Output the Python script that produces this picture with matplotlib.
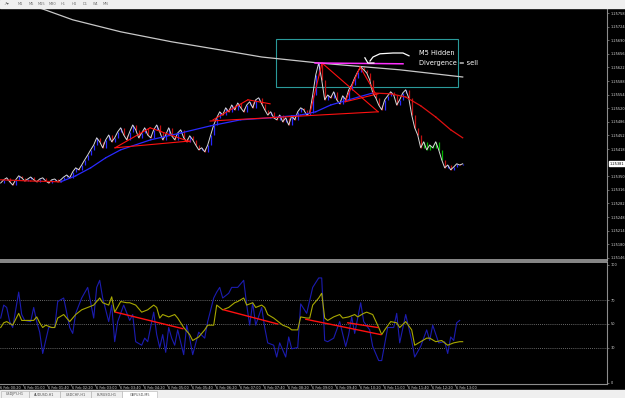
import matplotlib
matplotlib.use('Agg')
import matplotlib.pyplot as plt
from matplotlib.patches import Rectangle
from matplotlib.transforms import blended_transform_factory

# GBPUSD M5, 6 Feb, bar 0 = 00:20, one value per bar
closes = [1.25333, 1.25341, 1.25346, 1.25336, 1.25328, 1.25341, 1.25351, 1.25346, 1.25338, 1.25343,
          1.25348, 1.25341, 1.25336, 1.25343, 1.25346, 1.25338, 1.25333, 1.25341, 1.25343, 1.25336,
          1.25341, 1.25348, 1.25353, 1.25346, 1.25361, 1.25371, 1.25366, 1.25378, 1.25391, 1.25403,
          1.25416, 1.25428, 1.25446, 1.25436, 1.25421, 1.25441, 1.25453, 1.25436, 1.25446, 1.25461,
          1.25471, 1.25453, 1.25441, 1.25461, 1.25478, 1.25466, 1.25446, 1.25458, 1.25471, 1.25453,
          1.25446, 1.25466, 1.25478, 1.25461, 1.25441, 1.25453, 1.25471, 1.25451, 1.25441, 1.25458,
          1.25466, 1.25446, 1.25436, 1.25451, 1.25441, 1.25428, 1.25416, 1.25421, 1.25411, 1.25428,
          1.25453, 1.25478, 1.25496, 1.25511, 1.25503, 1.25521, 1.25511, 1.25528, 1.25516, 1.25533,
          1.25521, 1.25511, 1.25528, 1.25536, 1.25521, 1.25541, 1.25546, 1.25531, 1.25516, 1.25503,
          1.25511, 1.25496, 1.25491, 1.25503, 1.25486, 1.25496, 1.25478, 1.25501, 1.25491, 1.25511,
          1.25521, 1.25516, 1.25503, 1.25508, 1.25553, 1.25603, 1.25633, 1.25591, 1.25541, 1.25553,
          1.25546, 1.25561, 1.25541, 1.25531, 1.25551, 1.25541, 1.25566, 1.25578, 1.25596, 1.25611,
          1.25623, 1.25616, 1.25608, 1.25591, 1.25558, 1.25546, 1.25528, 1.25516, 1.25541, 1.25551,
          1.25561, 1.25553, 1.25528, 1.25541, 1.25558, 1.25566, 1.25546, 1.25503, 1.25471, 1.25453,
          1.25421, 1.25436, 1.25416, 1.25428, 1.25421, 1.25436, 1.25416, 1.25391, 1.25371, 1.25378,
          1.25366, 1.25373, 1.25381, 1.25378, 1.25381]
green_bars = [141, 142, 143, 144, 145, 146, 147]

# fast MA (blue rising / red falling)
ma_bars = [0, 10, 20, 25, 30, 35, 40, 50, 60, 70, 80, 90, 100, 105, 110, 116, 124, 130, 135, 140, 145, 150, 154]
ma_prices = [1.25341, 1.25338, 1.25336, 1.25351, 1.25371, 1.25396, 1.25416, 1.25441, 1.25458, 1.25476,
             1.25491, 1.25496, 1.25503, 1.25511, 1.25528, 1.25541, 1.25558, 1.25556, 1.25548, 1.25526,
             1.25498, 1.25466, 1.25446]

# slow MA (grey)
slow_bars = [10, 14, 24, 40, 57, 73, 87, 106, 133, 154]
slow_prices = [1.25778, 1.25768, 1.25741, 1.25711, 1.25686, 1.25666, 1.25648, 1.25633, 1.25616, 1.25598]

# hand drawn red trend lines on price
trend_lines = [((38.1, 1.25421), (49.8, 1.25471)), ((49.8, 1.25471), (63.1, 1.25436)),
               ((38.1, 1.25421), (63.1, 1.25438)), ((70.8, 1.25491), (82.4, 1.25541)),
               ((82.4, 1.25541), (89.8, 1.25531)), ((69.8, 1.25488), (125.8, 1.25511)),
               ((103.1, 1.25508), (107.1, 1.25633)), ((107.1, 1.25633), (125.8, 1.25511)),
               ((114.8, 1.25536), (119.8, 1.25623)), ((119.8, 1.25623), (124.8, 1.25558)),
               ((114.8, 1.25536), (125.8, 1.25556))]
magenta_line = ((104.8, 1.25633), (134.1, 1.25631))
box_bars = (91.8, 152.4)
box_prices = (1.25573, 1.25693)
arrow_bars = [136.1, 134.1, 130.8, 126.4, 124.1, 123.1]
arrow_prices = [1.25651, 1.25658, 1.25658, 1.25656, 1.25648, 1.25638]
head_bars = [121.4, 122.4, 124.4]
head_prices = [1.25646, 1.25633, 1.25633]
note_lines = ['M5 Hidden', 'Divergence = sell']

# oscillator
blue_bars = [0, 1, 2, 3, 4, 6, 7, 8, 10, 11, 12, 13, 14, 16, 17, 18, 19, 21, 23, 24, 25, 27, 29, 31, 32, 33,
             34, 36, 37, 38, 39, 41, 43, 44, 45, 47, 48, 49, 51, 52, 53, 54, 55, 56, 57, 58, 59, 61, 62, 63,
             64, 66, 68, 69, 71, 72, 73, 74, 76, 77, 78, 79, 81, 82, 83, 84, 85, 87, 88, 89, 91, 92, 93, 95,
             96, 97, 99, 100, 102, 104, 106, 107, 108, 109, 111, 113, 115, 116, 117, 118, 120, 121, 123, 124,
             126, 127, 129, 131, 132, 133, 135, 137, 138, 140, 142, 143, 144, 146, 148, 149, 150, 151, 152, 153]
blue_vals = [55, 66, 64, 52, 47, 77, 58, 53, 52, 64, 52, 43, 25, 47, 47, 47, 69, 72, 47, 42, 59, 72, 81, 55, 81, 87,
             72, 52, 66, 35, 52, 66, 53, 58, 35, 32, 38, 35, 60, 41, 30, 41, 26, 47, 38, 32, 45, 24, 49, 38,
             24, 43, 38, 52, 72, 77, 81, 72, 76, 81, 81, 81, 87, 66, 49, 68, 49, 64, 47, 34, 32, 22, 34, 22,
             39, 29, 30, 67, 59, 81, 89, 89, 36, 35, 38, 52, 31, 41, 56, 42, 68, 52, 45, 31,
             19, 19, 47, 47, 59, 34, 58, 36, 22, 31, 45, 36, 49, 34, 35, 25, 39, 36, 51, 53]
yellow_bars = [0, 1, 2, 4, 6, 7, 9, 11, 12, 13, 14, 15, 17, 18, 19, 21, 22, 23, 25, 27, 29, 31, 32, 33, 34, 36,
               37, 38, 40, 42, 43, 45, 47, 49, 51, 52, 53, 54, 56, 58, 59, 61, 63, 64, 66, 68, 69, 71, 72, 74,
               76, 78, 79, 81, 82, 84, 85, 87, 88, 89, 91, 93, 94, 96, 97, 99, 100, 102, 103, 104, 106, 107,
               108, 109, 111, 113, 114, 116, 118, 119, 121, 122, 124, 126, 127, 128, 130, 132, 133, 135, 137,
               138, 140, 142, 143, 145, 147, 148, 149, 151, 153, 154]
yellow_vals = [47, 51, 52, 49, 59, 53, 53, 53, 56, 51, 47, 49, 47, 47, 55, 58, 55, 52, 58, 62, 64, 66, 69, 72, 68, 66,
               73, 60, 69, 68, 68, 66, 60, 62, 66, 64, 55, 58, 56, 58, 55, 47, 41, 36, 39, 45, 49, 49, 66, 62,
               64, 68, 69, 72, 66, 68, 64, 66, 64, 58, 55, 51, 49, 47, 45, 45, 56, 55, 55, 66, 72, 76,
               55, 53, 56, 58, 55, 56, 58, 56, 59, 60, 58, 47, 41, 45, 52, 51, 47, 52, 45,
               32, 35, 38, 38, 35, 36, 34, 32, 34, 35, 35]
osc_lines = [((38.3, 60), (60.7, 46)), ((74.3, 62), (92.3, 50)),
             ((101.7, 54), (126.7, 41)), ((115.7, 51), (125.7, 47))]
osc_levels = [70, 50, 30]

price_ticks = [1.25758 - 0.00034 * k for k in range(19) if k != 11]
time_labels = ['6 Feb 00:20', '6 Feb 01:00', '6 Feb 01:40', '6 Feb 02:20', '6 Feb 03:00', '6 Feb 03:40',
               '6 Feb 04:20', '6 Feb 05:00', '6 Feb 05:40', '6 Feb 06:20', '6 Feb 07:00', '6 Feb 07:40',
               '6 Feb 08:20', '6 Feb 09:00', '6 Feb 09:40', '6 Feb 10:20', '6 Feb 11:00', '6 Feb 11:40',
               '6 Feb 12:20', '6 Feb 13:00']
timeframes = ['M1', 'M5', 'M15', 'M30', 'H1', 'H4', 'D1', 'W1', 'MN']
tabs = ['USDJPY,H1', 'AUDUSD,H1', 'USDCHF,H1', 'EURUSD,H1', 'GBPUSD,M5']

W, H = 625, 398
fig = plt.figure(figsize=(W / 100, H / 100), dpi=100, facecolor='black')
ax = fig.add_axes([0, 1 - 260 / H, 607 / W, 252 / H], facecolor='black')
ax2 = fig.add_axes([0, 1 - 384 / H, 607 / W, 122 / H], facecolor='black')
axis_c = '#8c8c8c'
lab_c = '#d8d8d8'
small = 2.5

# ---- price panel
for i in range(1, len(closes)):
    if i in green_bars:
        c = '#00b400'
    elif closes[i] > closes[i - 1]:
        c = '#2828ff'
    else:
        c = '#c01010'
    ax.vlines(i, min(closes[i - 1], closes[i]), max(closes[i - 1], closes[i]), color=c, lw=0.9)
ax.plot(range(len(closes)), closes, color='#d8d8d8', lw=0.7)

for k in range(len(ma_bars) - 1):
    c = '#2a2aff' if ma_prices[k + 1] > ma_prices[k] else '#e01010'
    ax.plot(ma_bars[k:k + 2], ma_prices[k:k + 2], color=c, lw=0.9)
ax.plot(slow_bars, slow_prices, color='#c8c8c8', lw=0.9)

for (b0, p0), (b1, p1) in trend_lines:
    ax.plot([b0, b1], [p0, p1], color='#ff1010', lw=0.8)
ax.plot([magenta_line[0][0], magenta_line[1][0]], [magenta_line[0][1], magenta_line[1][1]],
        color='#ff30ff', lw=1.1)
ax.add_patch(Rectangle((box_bars[0], box_prices[0]), box_bars[1] - box_bars[0],
                       box_prices[1] - box_prices[0], fill=False, ec='#2a9a9a', lw=0.8))
ax.plot(arrow_bars, arrow_prices, color='white', lw=0.9)
ax.plot(head_bars, head_prices, color='white', lw=0.9)
ax.text(139.4, 1.25658, note_lines[0], color='white', fontsize=4.8, va='center', ha='left')
ax.text(139.4, 1.25633, note_lines[1], color='white', fontsize=4.8, va='center', ha='left')

ax.set_xlim(-0.233, 202.1)
ax.set_ylim(1.251405, 1.257705)
ax.set_xticks([])
ax.yaxis.tick_right()
ax.set_yticks(price_ticks)
ax.set_yticklabels(['%.5f' % p for p in price_ticks])
ax.tick_params(axis='y', colors=axis_c, labelcolor=lab_c, labelsize=small, length=1.5, width=0.5, pad=1)
for s in ['top', 'left']:
    ax.spines[s].set_visible(False)
ax.spines['right'].set_color(axis_c)
ax.spines['bottom'].set_color('#a0a0a0')
ax.spines['bottom'].set_linewidth(1.2)
tr = blended_transform_factory(ax.transAxes, ax.transData)
ax.text(1.004, closes[-1], '%.5f' % closes[-1], transform=tr, fontsize=small, color='black',
        va='center', ha='left', bbox=dict(boxstyle='square,pad=0.15', fc='white', ec='white'))

# ---- oscillator panel
for lv in osc_levels:
    ax2.axhline(lv, color='#8a8a8a', lw=0.6, ls=(0, (1, 1.5)))
ax2.plot(blue_bars, blue_vals, color='#1c1cb0', lw=0.8)
ax2.plot(yellow_bars, yellow_vals, color='#a8a800', lw=0.8)
for (b0, v0), (b1, v1) in osc_lines:
    ax2.plot([b0, b1], [v0, v1], color='#ff1010', lw=1.0)
ax2.set_xlim(-0.233, 202.1)
ax2.set_ylim(-0.85, 102.5)
ax2.yaxis.tick_right()
ax2.set_yticks([0, 30, 50, 70, 100])
ax2.set_yticklabels(['0', '30', '50', '70', '100'])
ax2.tick_params(axis='y', colors=axis_c, labelcolor=lab_c, labelsize=small, length=1.5, width=0.5, pad=1)
tick_bars = [8 * k - 0.6 for k in range(1, len(time_labels))]
ax2.set_xticks(tick_bars)
ax2.set_xticklabels([])
ax2.tick_params(axis='x', colors=axis_c, length=1.5, width=0.5)
ax2.spines['left'].set_visible(False)
for s in ['top', 'right', 'bottom']:
    ax2.spines[s].set_color(axis_c)
ax2.spines['top'].set_color('#a0a0a0')
ax2.spines['top'].set_linewidth(1.2)
trx = blended_transform_factory(ax2.transData, fig.transFigure)
for k, lab in enumerate(time_labels):
    ax2.text(8 * k - 0.2, 1 - 388 / H, lab, transform=trx, fontsize=small, color=lab_c,
             ha='left', va='center', clip_on=False)

# ---- toolbar and tabs
fig.add_artist(Rectangle((0, 1 - 8 / H), 1, 8 / H, transform=fig.transFigure, color='#efefef'))
for x, t in zip([18, 29, 38, 49, 61, 72, 83, 93, 103], timeframes):
    fig.text(x / W, 1 - 4 / H, t, fontsize=2.6, color='#707070', va='center', ha='left')
fig.text(3 / W, 1 - 4 / H, '\u2197\u25be', fontsize=3.2, color='#606060', va='center', ha='left')
fig.add_artist(Rectangle((0, 0), 1, 8 / H, transform=fig.transFigure, color='#efefef'))
edges = [1, 29, 60, 91, 122, 157]
for k, t in enumerate(tabs):
    fc = 'white' if k == len(tabs) - 1 else '#efefef'
    fig.add_artist(Rectangle((edges[k] / W, 0), (edges[k + 1] - edges[k]) / W, 7 / H,
                             transform=fig.transFigure, fc=fc, ec='#b0b0b0', lw=0.4))
    fig.text((edges[k] + edges[k + 1]) / 2 / W, 3.5 / H, t, fontsize=2.4, color='#505050',
             ha='center', va='center')

fig.savefig('out.png', dpi=100, facecolor='black')
